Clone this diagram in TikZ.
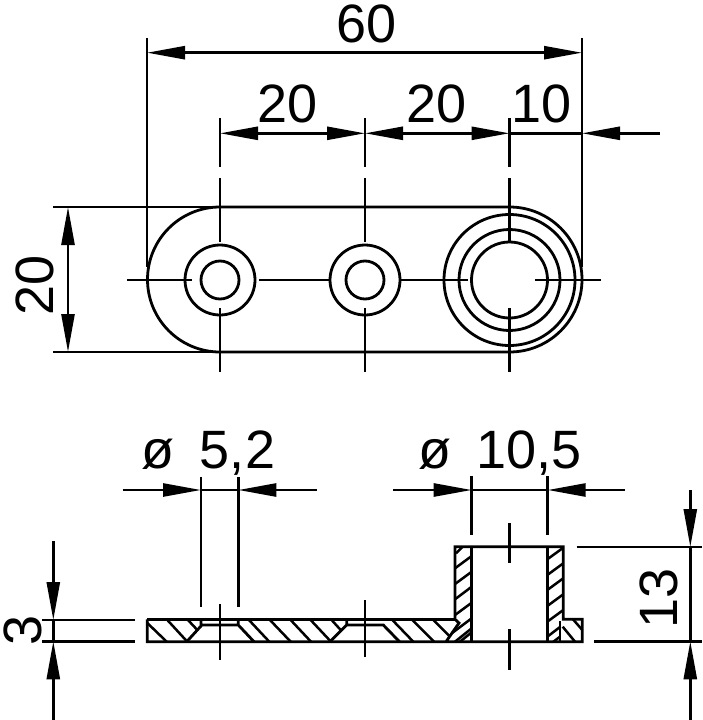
\documentclass[tikz,border=0pt]{standalone}
\usepackage{fontspec}
\setmainfont{Liberation Sans}
\usetikzlibrary{arrows.meta}
\tikzset{
  part/.style={line width=2.8pt},
  dimline/.style={line width=2.6pt},
  hatch/.style={line width=2.5pt},
  dimtext/.style={font=\fontsize{54}{58}\selectfont,inner sep=0pt,anchor=base},
}
\begin{document}
\begin{tikzpicture}[>={Triangle[length=38pt,width=13pt]},x=1pt,y=-1pt]
\useasboundingbox (0,0) rectangle (702,720);
\coordinate (holeA) at (220,280);
\coordinate (holeB) at (365,280);
\coordinate (holeC) at (509.5,280);
% top view
\begin{scope}[part]
\draw(509.5,207)--(220,207) arc[start angle=90,end angle=270,radius=72.5pt]--(509.5,352);
\draw(509.5,207) arc[start angle=90,end angle=-90,radius=72.5pt];
\foreach \r in {35,19}{\draw(holeA) circle (\r pt);\draw(holeB) circle (\r pt);}
\foreach \r in {65.5,50.5,38}{\draw(holeC) circle (\r pt);}
\end{scope}
% centre lines
\begin{scope}[dimline]
\draw(127,280)--(192,280) (259,280)--(330,280) (400,280)--(468,280) (535,280)--(601,280);
\foreach \x in {220,365,509.5}{
  \draw(\x,178)--(\x,242) (\x,308)--(\x,372);
  \draw(\x,118)--(\x,167);
}
\draw(147,38)--(147,267) (582,38)--(582,267);
\draw(53,207)--(220,207) (53,352)--(220,352);
\draw[<->](147,52.7)--(582,52.7);
\draw[<->](220,133.3)--(365,133.3);
\draw[<->](365,133.3)--(509.5,133.3);
\draw(509.5,133.3)--(582,133.3);
\draw[->](660,133.3)--(582,133.3);
\draw[<->](68,207)--(68,352);
\end{scope}
\node[dimtext] (lenAll) at (367,42) {60};
\node[dimtext] (pitchA) at (288,122) {20};
\node[dimtext] (pitchB) at (437,122) {20};
\node[dimtext] (lenEnd) at (542,122) {10};
\node[dimtext,rotate=90] (width) at (53,285) {20};
% section
\begin{scope}[part]
\draw(147.3,619.3)--(147.3,641.7)--(582.3,641.7)--(582.3,619.3)--(563.3,619.3)--(563.3,546.7)--(455,546.7)--(455,619.3)--(459,623)--(446,641.7);
\draw(147.3,619.3)--(455,619.3);
\draw(471.7,546.7)--(471.7,641.7) (547.3,546.7)--(547.3,641.7) (560,621)--(560,641.7);
\draw(186.7,641.7)--(201,626)--(201,619.3) (201,625)--(238.3,625) (238.3,619.3)--(238.3,625)--(254,641.7);
\draw(330,641.7)--(346.7,625)--(346.7,619.3) (346.7,625)--(383.3,625)--(399.5,641.7);
\end{scope}
\begin{scope}[hatch]
\foreach \a/\b/\c/\d in {147.3/623/166.7/641.7,166.7/619.3/187.3/641.7,187.3/619.3/196.7/629.3,
  248.3/619.3/269.3/641.7,269.3/619.3/290.7/641.7,290/619.3/311/641.7,310/619.3/331/641.7,331/619.3/340.7/630,
  391.7/619.3/413.3/641.7,411.7/619.3/434/641.7,432.7/619.3/450/636.7,
  562.7/626.7/575/641.7,573/619.3/582.3/630}{
  \draw(\a,\b)--(\c,\d);
}
\foreach \a/\b in {568.3/556,584/571.7,599.3/586.7,615/602.7}{\draw(455,\a)--(471.7,\b);}
\draw(456,553.3)--(462.7,546.7);
\draw(451.7,633.3)--(471.7,618.3) (455,641.7)--(471.7,628.3) (460,641.7)--(471.7,632.3);
\foreach \a/\b in {559.3/547.7,575/563.3,590/578.3,606/594.3,621.7/610}{\draw(547.3,\a)--(563.3,\b);}
\draw(547.3,636.7)--(560,627) (553.3,641.7)--(560,636.7);
\end{scope}
\begin{scope}[dimline]
\draw(220,604)--(220,660) (365,600)--(365,657);
\draw(509.5,523)--(509.5,562.7) (509.5,629.3)--(509.5,670);
\draw(201,477)--(201,606.7) (238.3,477)--(238.3,606.7);
\draw(471.7,476)--(471.7,534.7) (547.7,476)--(547.7,534.7);
\draw[->](122.7,490)--(201,490);
\draw(201,490)--(238.3,490);
\draw[->](316.7,490)--(238.3,490);
\draw[->](393,490)--(471.7,490);
\draw(471.7,490)--(547.7,490);
\draw[->](625,490)--(547.7,490);
\draw(42.3,620)--(135,620) (42.3,641.3)--(135,641.3);
\draw(53.3,620)--(53.3,641.3);
\draw[->](53.3,541)--(53.3,620);
\draw[->](53.3,720)--(53.3,641.3);
\draw(576.7,547)--(702,547) (594.3,641.3)--(702,641.3);
\draw(690.3,547)--(690.3,641.3);
\draw[->](690.3,490)--(690.3,547);
\draw[->](690.3,720)--(690.3,641.3);
\end{scope}
\node[dimtext] (boreSmall) at (208.5,468) {ø\hspace{10pt} 5,2};
\node[dimtext] (boreLarge) at (499.7,468) {ø\hspace{10pt} 10,5};
\node[dimtext,rotate=90] (thick) at (41.7,630) {3};
\node[dimtext,rotate=90] (height) at (677.3,598) {13};
\end{tikzpicture}
\end{document}
